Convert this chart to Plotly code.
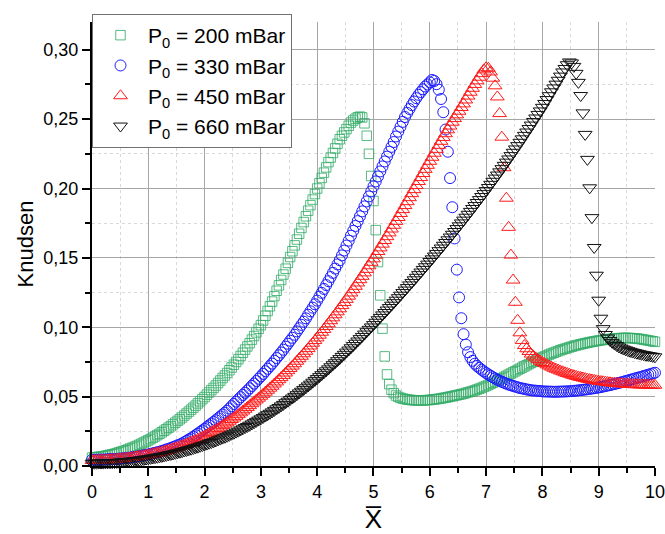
import plotly.graph_objects as go

# Dimensionless position along the nozzle (shared sampling grid, step 0.04)
X_BAR = [
    0.00, 0.04, 0.08, 0.12, 0.16, 0.20, 0.24, 0.28, 0.32, 0.36,
    0.40, 0.44, 0.48, 0.52, 0.56, 0.60, 0.64, 0.68, 0.72, 0.76,
    0.80, 0.84, 0.88, 0.92, 0.96, 1.00, 1.04, 1.08, 1.12, 1.16,
    1.20, 1.24, 1.28, 1.32, 1.36, 1.40, 1.44, 1.48, 1.52, 1.56,
    1.60, 1.64, 1.68, 1.72, 1.76, 1.80, 1.84, 1.88, 1.92, 1.96,
    2.00, 2.04, 2.08, 2.12, 2.16, 2.20, 2.24, 2.28, 2.32, 2.36,
    2.40, 2.44, 2.48, 2.52, 2.56, 2.60, 2.64, 2.68, 2.72, 2.76,
    2.80, 2.84, 2.88, 2.92, 2.96, 3.00, 3.04, 3.08, 3.12, 3.16,
    3.20, 3.24, 3.28, 3.32, 3.36, 3.40, 3.44, 3.48, 3.52, 3.56,
    3.60, 3.64, 3.68, 3.72, 3.76, 3.80, 3.84, 3.88, 3.92, 3.96,
    4.00, 4.04, 4.08, 4.12, 4.16, 4.20, 4.24, 4.28, 4.32, 4.36,
    4.40, 4.44, 4.48, 4.52, 4.56, 4.60, 4.64, 4.68, 4.72, 4.76,
    4.80, 4.84, 4.88, 4.92, 4.96, 5.00, 5.04, 5.08, 5.12, 5.16,
    5.20, 5.24, 5.28, 5.32, 5.36, 5.40, 5.44, 5.48, 5.52, 5.56,
    5.60, 5.64, 5.68, 5.72, 5.76, 5.80, 5.84, 5.88, 5.92, 5.96,
    6.00, 6.04, 6.08, 6.12, 6.16, 6.20, 6.24, 6.28, 6.32, 6.36,
    6.40, 6.44, 6.48, 6.52, 6.56, 6.60, 6.64, 6.68, 6.72, 6.76,
    6.80, 6.84, 6.88, 6.92, 6.96, 7.00, 7.04, 7.08, 7.12, 7.16,
    7.20, 7.24, 7.28, 7.32, 7.36, 7.40, 7.44, 7.48, 7.52, 7.56,
    7.60, 7.64, 7.68, 7.72, 7.76, 7.80, 7.84, 7.88, 7.92, 7.96,
    8.00, 8.04, 8.08, 8.12, 8.16, 8.20, 8.24, 8.28, 8.32, 8.36,
    8.40, 8.44, 8.48, 8.52, 8.56, 8.60, 8.64, 8.68, 8.72, 8.76,
    8.80, 8.84, 8.88, 8.92, 8.96, 9.00, 9.04, 9.08, 9.12, 9.16,
    9.20, 9.24, 9.28, 9.32, 9.36, 9.40, 9.44, 9.48, 9.52, 9.56,
    9.60, 9.64, 9.68, 9.72, 9.76, 9.80, 9.84, 9.88, 9.92, 9.96,
    10.00,
]

# Knudsen number, P0 = 200 mBar
KN_200 = [
    0.0060, 0.0062, 0.0064, 0.0066, 0.0068, 0.0070, 0.0074, 0.0077, 0.0081, 0.0084,
    0.0088, 0.0093, 0.0098, 0.0103, 0.0108, 0.0113, 0.0119, 0.0126, 0.0132, 0.0139,
    0.0145, 0.0153, 0.0161, 0.0169, 0.0177, 0.0185, 0.0194, 0.0204, 0.0213, 0.0223,
    0.0232, 0.0243, 0.0254, 0.0265, 0.0276, 0.0287, 0.0300, 0.0312, 0.0325, 0.0337,
    0.0350, 0.0364, 0.0378, 0.0392, 0.0406, 0.0420, 0.0435, 0.0451, 0.0466, 0.0482,
    0.0497, 0.0514, 0.0530, 0.0547, 0.0563, 0.0580, 0.0598, 0.0616, 0.0634, 0.0652,
    0.0670, 0.0690, 0.0710, 0.0730, 0.0750, 0.0770, 0.0793, 0.0816, 0.0839, 0.0862,
    0.0885, 0.0911, 0.0937, 0.0963, 0.0989, 0.1015, 0.1049, 0.1083, 0.1117, 0.1151,
    0.1185, 0.1224, 0.1263, 0.1302, 0.1341, 0.1380, 0.1422, 0.1464, 0.1506, 0.1548,
    0.1590, 0.1632, 0.1674, 0.1716, 0.1758, 0.1800, 0.1840, 0.1880, 0.1920, 0.1960,
    0.2000, 0.2038, 0.2076, 0.2114, 0.2152, 0.2190, 0.2223, 0.2256, 0.2289, 0.2322,
    0.2355, 0.2380, 0.2404, 0.2428, 0.2452, 0.2475, 0.2490, 0.2503, 0.2513, 0.2518,
    0.2512, 0.2470, 0.2380, 0.2250, 0.2090, 0.1910, 0.1700, 0.1470, 0.1230, 0.0990,
    0.0790, 0.0660, 0.0590, 0.0550, 0.0525, 0.0508, 0.0498, 0.0491, 0.0486, 0.0482,
    0.0479, 0.0477, 0.0475, 0.0474, 0.0473, 0.0473, 0.0473, 0.0473, 0.0474, 0.0475,
    0.0476, 0.0478, 0.0480, 0.0482, 0.0484, 0.0487, 0.0490, 0.0493, 0.0496, 0.0500,
    0.0503, 0.0507, 0.0510, 0.0514, 0.0517, 0.0521, 0.0526, 0.0531, 0.0535, 0.0540,
    0.0545, 0.0551, 0.0557, 0.0563, 0.0570, 0.0577, 0.0584, 0.0592, 0.0600, 0.0608,
    0.0616, 0.0624, 0.0632, 0.0641, 0.0649, 0.0658, 0.0666, 0.0675, 0.0683, 0.0692,
    0.0701, 0.0709, 0.0718, 0.0726, 0.0735, 0.0743, 0.0751, 0.0759, 0.0767, 0.0775,
    0.0782, 0.0789, 0.0796, 0.0803, 0.0810, 0.0816, 0.0822, 0.0828, 0.0834, 0.0840,
    0.0845, 0.0850, 0.0855, 0.0860, 0.0865, 0.0869, 0.0873, 0.0877, 0.0881, 0.0885,
    0.0888, 0.0892, 0.0895, 0.0898, 0.0901, 0.0904, 0.0906, 0.0909, 0.0911, 0.0913,
    0.0915, 0.0917, 0.0918, 0.0920, 0.0921, 0.0922, 0.0923, 0.0923, 0.0923, 0.0922,
    0.0921, 0.0920, 0.0918, 0.0916, 0.0914, 0.0911, 0.0908, 0.0905, 0.0902, 0.0899,
    0.0895,
]

# Knudsen number, P0 = 330 mBar
KN_330 = [
    0.0045, 0.0045, 0.0045, 0.0046, 0.0046, 0.0046, 0.0047, 0.0048, 0.0049, 0.0049,
    0.0050, 0.0051, 0.0053, 0.0054, 0.0056, 0.0057, 0.0059, 0.0061, 0.0064, 0.0066,
    0.0068, 0.0071, 0.0074, 0.0077, 0.0080, 0.0083, 0.0087, 0.0091, 0.0095, 0.0099,
    0.0103, 0.0108, 0.0113, 0.0119, 0.0124, 0.0129, 0.0136, 0.0142, 0.0149, 0.0155,
    0.0162, 0.0172, 0.0181, 0.0191, 0.0200, 0.0210, 0.0222, 0.0233, 0.0245, 0.0256,
    0.0268, 0.0280, 0.0293, 0.0305, 0.0318, 0.0330, 0.0344, 0.0357, 0.0371, 0.0384,
    0.0398, 0.0414, 0.0431, 0.0447, 0.0464, 0.0480, 0.0496, 0.0512, 0.0528, 0.0544,
    0.0560, 0.0577, 0.0594, 0.0612, 0.0629, 0.0646, 0.0664, 0.0683, 0.0701, 0.0720,
    0.0738, 0.0758, 0.0778, 0.0798, 0.0818, 0.0838, 0.0860, 0.0881, 0.0903, 0.0924,
    0.0946, 0.0970, 0.0993, 0.1017, 0.1040, 0.1064, 0.1090, 0.1115, 0.1141, 0.1166,
    0.1192, 0.1220, 0.1248, 0.1276, 0.1304, 0.1332, 0.1362, 0.1392, 0.1423, 0.1453,
    0.1483, 0.1518, 0.1553, 0.1589, 0.1624, 0.1660, 0.1695, 0.1730, 0.1765, 0.1800,
    0.1835, 0.1871, 0.1907, 0.1943, 0.1979, 0.2015, 0.2051, 0.2087, 0.2123, 0.2159,
    0.2195, 0.2230, 0.2265, 0.2300, 0.2335, 0.2375, 0.2410, 0.2445, 0.2480, 0.2515,
    0.2545, 0.2573, 0.2601, 0.2627, 0.2651, 0.2675, 0.2695, 0.2715, 0.2735, 0.2750,
    0.2765, 0.2782, 0.2775, 0.2752, 0.2712, 0.2645, 0.2550, 0.2425, 0.2265, 0.2075,
    0.1865, 0.1640, 0.1415, 0.1215, 0.1065, 0.0950, 0.0875, 0.0820, 0.0785, 0.0758,
    0.0737, 0.0721, 0.0707, 0.0694, 0.0682, 0.0670, 0.0660, 0.0650, 0.0640, 0.0631,
    0.0622, 0.0615, 0.0607, 0.0600, 0.0594, 0.0587, 0.0582, 0.0577, 0.0572, 0.0567,
    0.0562, 0.0559, 0.0556, 0.0552, 0.0549, 0.0546, 0.0544, 0.0543, 0.0541, 0.0540,
    0.0538, 0.0537, 0.0537, 0.0536, 0.0536, 0.0535, 0.0535, 0.0536, 0.0536, 0.0537,
    0.0537, 0.0538, 0.0539, 0.0540, 0.0542, 0.0543, 0.0545, 0.0547, 0.0549, 0.0551,
    0.0553, 0.0556, 0.0558, 0.0561, 0.0563, 0.0566, 0.0569, 0.0573, 0.0576, 0.0580,
    0.0583, 0.0587, 0.0591, 0.0595, 0.0599, 0.0603, 0.0607, 0.0612, 0.0616, 0.0621,
    0.0625, 0.0630, 0.0634, 0.0639, 0.0643, 0.0648, 0.0653, 0.0658, 0.0662, 0.0667,
    0.0672,
]

# Knudsen number, P0 = 450 mBar
KN_450 = [
    0.0040, 0.0040, 0.0041, 0.0041, 0.0042, 0.0042, 0.0043, 0.0044, 0.0045, 0.0046,
    0.0047, 0.0049, 0.0050, 0.0052, 0.0053, 0.0055, 0.0057, 0.0059, 0.0062, 0.0064,
    0.0066, 0.0069, 0.0072, 0.0074, 0.0077, 0.0080, 0.0083, 0.0087, 0.0090, 0.0094,
    0.0097, 0.0101, 0.0105, 0.0110, 0.0114, 0.0118, 0.0123, 0.0129, 0.0134, 0.0140,
    0.0145, 0.0151, 0.0158, 0.0164, 0.0171, 0.0177, 0.0184, 0.0192, 0.0199, 0.0207,
    0.0214, 0.0223, 0.0233, 0.0242, 0.0251, 0.0260, 0.0270, 0.0280, 0.0291, 0.0301,
    0.0311, 0.0323, 0.0335, 0.0346, 0.0358, 0.0370, 0.0383, 0.0396, 0.0409, 0.0422,
    0.0435, 0.0449, 0.0462, 0.0476, 0.0489, 0.0503, 0.0517, 0.0532, 0.0546, 0.0561,
    0.0575, 0.0591, 0.0606, 0.0622, 0.0637, 0.0653, 0.0670, 0.0687, 0.0703, 0.0720,
    0.0737, 0.0755, 0.0773, 0.0791, 0.0809, 0.0827, 0.0846, 0.0865, 0.0885, 0.0904,
    0.0923, 0.0943, 0.0964, 0.0984, 0.1005, 0.1025, 0.1047, 0.1068, 0.1090, 0.1111,
    0.1133, 0.1156, 0.1178, 0.1201, 0.1224, 0.1247, 0.1271, 0.1295, 0.1319, 0.1343,
    0.1367, 0.1392, 0.1417, 0.1443, 0.1468, 0.1493, 0.1519, 0.1546, 0.1572, 0.1599,
    0.1625, 0.1653, 0.1680, 0.1708, 0.1735, 0.1763, 0.1791, 0.1820, 0.1848, 0.1877,
    0.1905, 0.1934, 0.1963, 0.1992, 0.2021, 0.2050, 0.2079, 0.2108, 0.2138, 0.2167,
    0.2196, 0.2225, 0.2254, 0.2282, 0.2311, 0.2340, 0.2368, 0.2395, 0.2423, 0.2450,
    0.2478, 0.2504, 0.2531, 0.2557, 0.2584, 0.2610, 0.2638, 0.2666, 0.2694, 0.2722,
    0.2750, 0.2776, 0.2802, 0.2828, 0.2855, 0.2870, 0.2866, 0.2840, 0.2795, 0.2740,
    0.2660, 0.2540, 0.2370, 0.2150, 0.1930, 0.1720, 0.1520, 0.1340, 0.1180, 0.1050,
    0.0960, 0.0905, 0.0868, 0.0845, 0.0825, 0.0807, 0.0792, 0.0779, 0.0767, 0.0756,
    0.0746, 0.0738, 0.0729, 0.0721, 0.0713, 0.0705, 0.0698, 0.0692, 0.0685, 0.0679,
    0.0672, 0.0667, 0.0662, 0.0656, 0.0651, 0.0646, 0.0642, 0.0638, 0.0634, 0.0630,
    0.0626, 0.0623, 0.0620, 0.0617, 0.0614, 0.0611, 0.0609, 0.0607, 0.0604, 0.0602,
    0.0600, 0.0598, 0.0597, 0.0595, 0.0594, 0.0592, 0.0591, 0.0590, 0.0589, 0.0588,
    0.0587, 0.0586, 0.0586, 0.0585, 0.0585, 0.0584, 0.0584, 0.0583, 0.0583, 0.0582,
    0.0582,
]

# Knudsen number, P0 = 660 mBar
KN_660 = [
    0.0020, 0.0020, 0.0020, 0.0021, 0.0021, 0.0021, 0.0022, 0.0023, 0.0023, 0.0024,
    0.0025, 0.0026, 0.0027, 0.0029, 0.0030, 0.0031, 0.0033, 0.0035, 0.0036, 0.0038,
    0.0040, 0.0042, 0.0045, 0.0047, 0.0050, 0.0052, 0.0055, 0.0058, 0.0060, 0.0063,
    0.0066, 0.0069, 0.0073, 0.0076, 0.0080, 0.0083, 0.0087, 0.0091, 0.0095, 0.0099,
    0.0103, 0.0108, 0.0112, 0.0117, 0.0121, 0.0126, 0.0131, 0.0136, 0.0142, 0.0147,
    0.0152, 0.0158, 0.0164, 0.0169, 0.0175, 0.0181, 0.0188, 0.0194, 0.0201, 0.0207,
    0.0214, 0.0221, 0.0229, 0.0236, 0.0244, 0.0251, 0.0260, 0.0268, 0.0277, 0.0285,
    0.0294, 0.0303, 0.0312, 0.0322, 0.0331, 0.0340, 0.0350, 0.0360, 0.0370, 0.0380,
    0.0390, 0.0401, 0.0412, 0.0422, 0.0433, 0.0444, 0.0456, 0.0467, 0.0479, 0.0490,
    0.0502, 0.0514, 0.0527, 0.0539, 0.0552, 0.0564, 0.0577, 0.0590, 0.0604, 0.0617,
    0.0630, 0.0644, 0.0658, 0.0672, 0.0686, 0.0700, 0.0715, 0.0730, 0.0744, 0.0759,
    0.0774, 0.0790, 0.0805, 0.0821, 0.0836, 0.0852, 0.0868, 0.0885, 0.0901, 0.0918,
    0.0934, 0.0951, 0.0968, 0.0985, 0.1002, 0.1019, 0.1036, 0.1054, 0.1071, 0.1089,
    0.1106, 0.1124, 0.1142, 0.1159, 0.1177, 0.1195, 0.1213, 0.1231, 0.1250, 0.1268,
    0.1286, 0.1305, 0.1323, 0.1342, 0.1360, 0.1379, 0.1398, 0.1417, 0.1436, 0.1455,
    0.1474, 0.1493, 0.1513, 0.1532, 0.1552, 0.1571, 0.1591, 0.1611, 0.1630, 0.1650,
    0.1670, 0.1690, 0.1711, 0.1731, 0.1752, 0.1772, 0.1793, 0.1814, 0.1835, 0.1856,
    0.1877, 0.1899, 0.1920, 0.1942, 0.1963, 0.1985, 0.2007, 0.2030, 0.2052, 0.2075,
    0.2097, 0.2120, 0.2143, 0.2167, 0.2190, 0.2213, 0.2237, 0.2261, 0.2285, 0.2309,
    0.2333, 0.2358, 0.2383, 0.2407, 0.2432, 0.2457, 0.2483, 0.2508, 0.2534, 0.2559,
    0.2585, 0.2613, 0.2641, 0.2669, 0.2697, 0.2725, 0.2752, 0.2780, 0.2810, 0.2840,
    0.2865, 0.2892, 0.2912, 0.2905, 0.2880, 0.2830, 0.2765, 0.2670, 0.2545, 0.2390,
    0.2210, 0.2005, 0.1790, 0.1575, 0.1375, 0.1195, 0.1065, 0.0990, 0.0948, 0.0922,
    0.0905, 0.0891, 0.0879, 0.0868, 0.0858, 0.0850, 0.0843, 0.0837, 0.0831, 0.0826,
    0.0821, 0.0817, 0.0813, 0.0809, 0.0805, 0.0802, 0.0799, 0.0796, 0.0793, 0.0790,
    0.0787,
]

SERIES = [
    ("P<sub>0</sub> = 200 mBar", KN_200, "square-open", 9.5, "rgba(46,170,100,0.8)"),
    ("P<sub>0</sub> = 330 mBar", KN_330, "circle-open", 11, "#1a1aff"),
    ("P<sub>0</sub> = 450 mBar", KN_450, "triangle-up-open", 12, "#ff1a1a"),
    ("P<sub>0</sub> = 660 mBar", KN_660, "triangle-down-open", 12, "#111111"),
]

FONT = "Liberation Sans, Arial, sans-serif"

fig = go.Figure()
for name, values, symbol, size, color in SERIES:
    fig.add_trace(go.Scatter(
        x=X_BAR, y=values, name=name, mode="markers",
        cliponaxis=False,
        marker=dict(symbol=symbol, size=size, color=color,
                    line=dict(color=color, width=1)),
    ))

axis_common = dict(
    showline=True, linecolor="black", linewidth=2,
    ticks="outside", ticklen=8, tickwidth=1.5, tickcolor="black",
    showgrid=True, gridcolor="#a6a6a6", gridwidth=1,
    zeroline=False, mirror=False, automargin=False,
    ticklabeloverflow="allow",
    tickfont=dict(family=FONT, size=18, color="black"),
)

fig.update_layout(
    width=665, height=534,
    margin=dict(l=92, r=10, t=22, b=68),
    paper_bgcolor="white", plot_bgcolor="white",
    separators=", ",
    font=dict(family=FONT, color="black"),
    showlegend=True,
    legend=dict(
        x=0.0, y=1.018, xanchor="left", yanchor="top",
        bgcolor="white", bordercolor="#707070", borderwidth=1,
        font=dict(family=FONT, size=21, color="black"),
        itemwidth=45, tracegroupgap=0,
    ),
    xaxis=dict(
        range=[0, 10.0005], dtick=1, tick0=0,
        title=dict(text="X\u0305", font=dict(family=FONT, size=26), standoff=16),
        minor=dict(dtick=0.5, ticks="outside", ticklen=5, tickcolor="black",
                   showgrid=True, gridcolor="#d9d9d9", griddash="3px,3px", gridwidth=1),
        **axis_common,
    ),
    yaxis=dict(
        range=[0, 0.32], dtick=0.05, tick0=0, tickformat=".2f",
        title=dict(text="Knudsen", font=dict(family=FONT, size=22), standoff=4),
        minor=dict(dtick=0.025, ticks="outside", ticklen=5, tickcolor="black",
                   showgrid=True, gridcolor="#d9d9d9", griddash="3px,3px", gridwidth=1),
        **axis_common,
    ),
)

fig.write_html("out.html")
